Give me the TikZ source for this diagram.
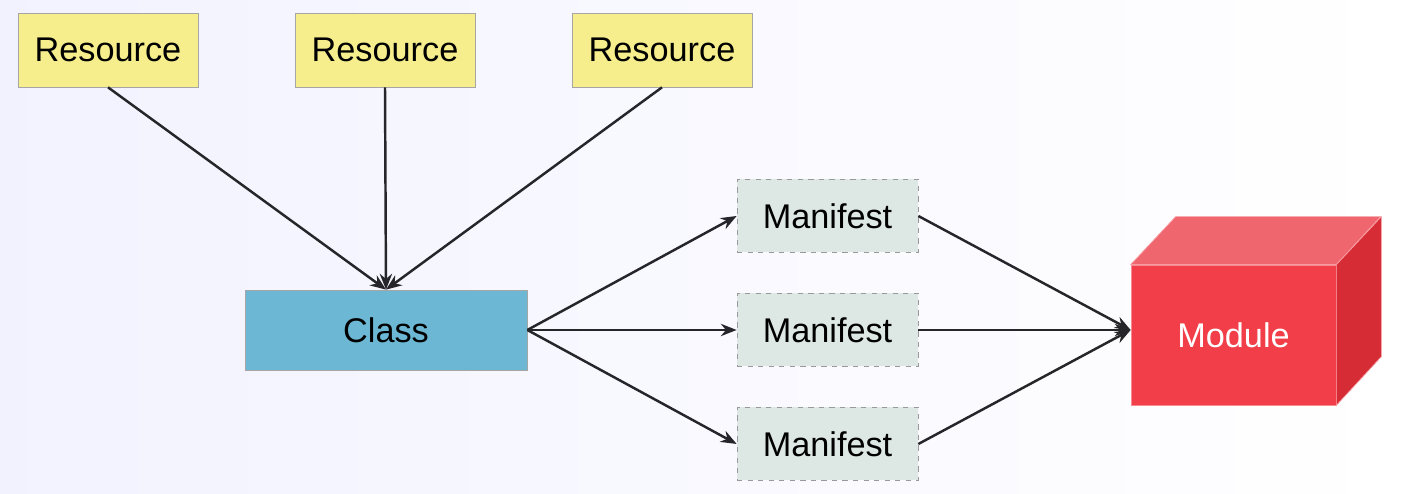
\documentclass[tikz,border=0pt]{standalone}
\usepackage{fontspec}
\setmainfont{Liberation Sans}
\definecolor{resyellow}{RGB}{246, 238, 140}
\definecolor{classblue}{RGB}{108, 184, 212}
\definecolor{manigray}{RGB}{221, 232, 228}
\definecolor{modred}{RGB}{242, 62, 72}
\definecolor{modtop}{RGB}{240, 102, 110}
\definecolor{modside}{RGB}{214, 44, 54}
\definecolor{linedark}{RGB}{38, 38, 42}
\usetikzlibrary{arrows.meta, positioning, calc}

\tikzset{
  resbox/.style={draw=gray!70, fill=resyellow, minimum width=3.6cm, minimum height=1.48cm, font=\fontsize{19.5}{23}\selectfont},
  manibox/.style={draw=gray!80, dashed, fill=manigray, minimum width=3.62cm, minimum height=1.46cm, font=\fontsize{19.5}{23}\selectfont},
  link/.style={draw=linedark, line width=1.4pt, -{Stealth[length=9pt, width=7pt]}}
}

\begin{document}
\begin{tikzpicture}
  % background
  \shade[left color=blue!5, right color=white] (0,0) rectangle (28.02,9.88);
  \useasboundingbox (0,0) rectangle (28.02,9.88);

  % Resources
  \node[resbox] (res1) at (2.16, 8.88) {Resource};
  \node[resbox] (res2) at (7.70, 8.88) {Resource};
  \node[resbox] (res3) at (13.24, 8.88) {Resource};

  % Class
  \node[draw=gray!70, fill=classblue, minimum width=5.64cm, minimum height=1.6cm, font=\fontsize{19.5}{23}\selectfont] (class) at (7.72, 3.28) {Class};

  % Manifests
  \node[manibox] (man1) at (16.55, 5.56) {Manifest};
  \node[manibox] (man2) at (16.55, 3.28) {Manifest};
  \node[manibox] (man3) at (16.55, 1.00) {Manifest};

  % Module (box)
  \node[fill=modred, draw=modred!60!white, minimum width=4.1cm, minimum height=2.8cm, text=white, font=\fontsize{19.5}{23}\selectfont] (module) at (24.67, 3.18) {Module};
  \fill[modtop, draw=modred!50!white] (module.north west) -- ++(0.9,0.96) -- ++(4.1,0) -- (module.north east) -- cycle;
  \fill[modside, draw=modred!50!white] (module.north east) -- ++(0.9,0.96) -- ++(0,-2.8) -- (module.south east) -- cycle;
  \coordinate (modin) at (module.west |- class.east);

  % connectors
  \foreach \r in {res1, res2, res3}
    \draw[link] (\r.south) -- (class.north);
  \foreach \m in {man1, man2, man3} {
    \draw[link] (class.east) -- (\m.west);
    \draw[link] (\m.east) -- (modin);
  }
\end{tikzpicture}
\end{document}
